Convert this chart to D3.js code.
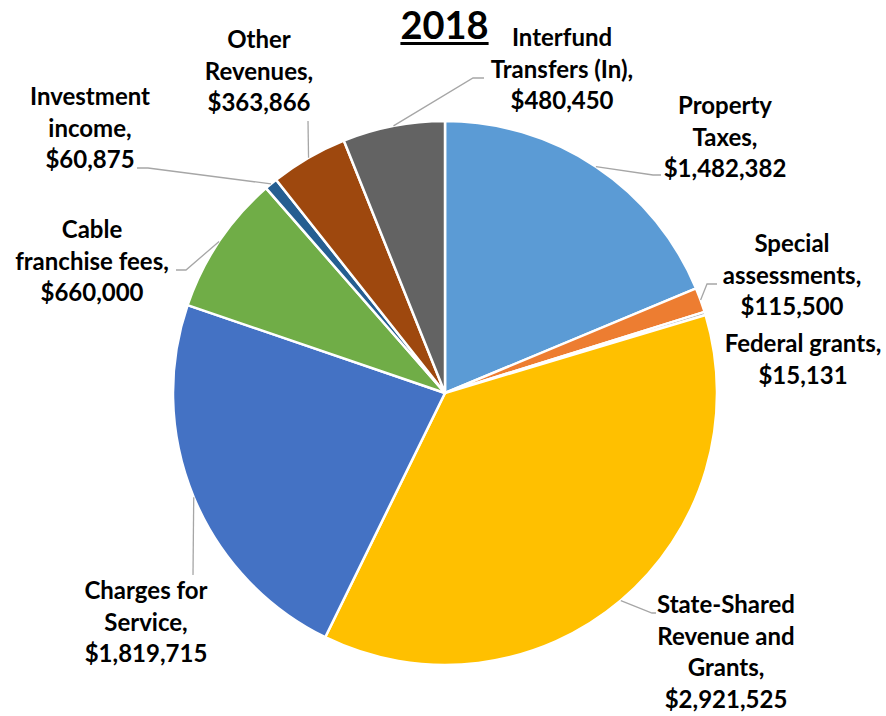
<!DOCTYPE html>
<html>
<head>
<meta charset="utf-8">
<script src="https://cdn.jsdelivr.net/npm/d3@7"></script>
<style>
  html, body { margin: 0; padding: 0; background: #fff; }
  svg { display: block; }
  text { font-family: Lato, "Open Sans", sans-serif; font-weight: 700; fill: #000; }
</style>
</head>
<body>
<svg id="chart" width="886" height="716"></svg>
<script>
// ---- data ----
const title = "2018";
const categories = [
  "Property Taxes",
  "Special assessments",
  "Federal grants",
  "State-Shared Revenue and Grants",
  "Charges for Service",
  "Cable franchise fees",
  "Investment income",
  "Other Revenues",
  "Interfund Transfers (In)"
];
const values = [1482382, 115500, 15131, 2921525, 1819715, 660000, 60875, 363866, 480450];
const labelLines = [
  ["Property", "Taxes,"],
  ["Special", "assessments,"],
  ["Federal grants,"],
  ["State-Shared", "Revenue and", "Grants,"],
  ["Charges for", "Service,"],
  ["Cable", "franchise fees,"],
  ["Investment", "income,"],
  ["Other", "Revenues,"],
  ["Interfund", "Transfers (In),"]
];
const colors = ["#5B9BD5", "#ED7D31", "#A5A5A5", "#FFC000", "#4472C4", "#70AD47", "#255E91", "#9E480E", "#636363"];

// ---- layout (label placement, separate from data) ----
// x: text centre, y: first baseline, leader: elbow points after the arc point (null = no leader)
const labelLayout = [
  { x: 725, y: 114, leader: [[653, 175], [661, 175]] },
  { x: 792, y: 252, leader: [[707, 284], [717, 284]] },
  { x: 803, y: 352, leader: null },
  { x: 726, y: 613, leader: [[652, 613], [656, 613]] },
  { x: 146, y: 599, leader: [[193, 575]] },
  { x: 92,  y: 238, leader: [[186, 270], [176, 270]] },
  { x: 90,  y: 105, leader: [[148, 168], [137, 168]] },
  { x: 259, y: 48,  leader: [[308, 121]] },
  { x: 562, y: 46,  leader: [[473, 78], [484, 78]] }
];

const W = 886, H = 716;
const cx = 445, cy = 393, R = 272;
const lineH = 31.5;
const fontSize = 24;

const svg = d3.select("#chart");
const fmt = d3.format("$,");

const pie = d3.pie().sort(null).value(d => d);
const arcs = pie(values);
const arc = d3.arc().innerRadius(0).outerRadius(R);

const g = svg.append("g").attr("transform", `translate(${cx},${cy})`);

g.selectAll("path.slice")
  .data(arcs)
  .join("path")
  .attr("class", "slice")
  .attr("d", arc)
  .attr("fill", (d, i) => colors[i])
  .attr("stroke", "#fff")
  .attr("stroke-width", 2.5)
  .attr("stroke-linejoin", "round");

// leader lines
const line = d3.line();
arcs.forEach((d, i) => {
  const lay = labelLayout[i];
  if (!lay.leader) return;
  const mid = (d.startAngle + d.endAngle) / 2;
  const p0 = [cx + R * Math.sin(mid), cy - R * Math.cos(mid)];
  svg.append("path")
    .attr("d", line([p0, ...lay.leader]))
    .attr("fill", "none")
    .attr("stroke", "#A6A6A6")
    .attr("stroke-width", 1.3);
});

// labels
arcs.forEach((d, i) => {
  const lay = labelLayout[i];
  const lines = labelLines[i].concat([fmt(values[i])]);
  const t = svg.append("text")
    .attr("text-anchor", "middle")
    .attr("font-size", fontSize);
  lines.forEach((s, k) => {
    t.append("tspan")
      .attr("x", lay.x)
      .attr("y", lay.y + k * lineH)
      .text(s);
  });
});

// title
const tt = svg.append("text")
  .attr("x", 444.5)
  .attr("y", 39)
  .attr("text-anchor", "middle")
  .attr("font-size", 38)
  .text(title);
const tw = tt.node().getComputedTextLength();
svg.append("rect")
  .attr("x", 444.5 - tw / 2)
  .attr("y", 42)
  .attr("width", tw)
  .attr("height", 3)
  .attr("fill", "#000");
</script>
</body>
</html>
